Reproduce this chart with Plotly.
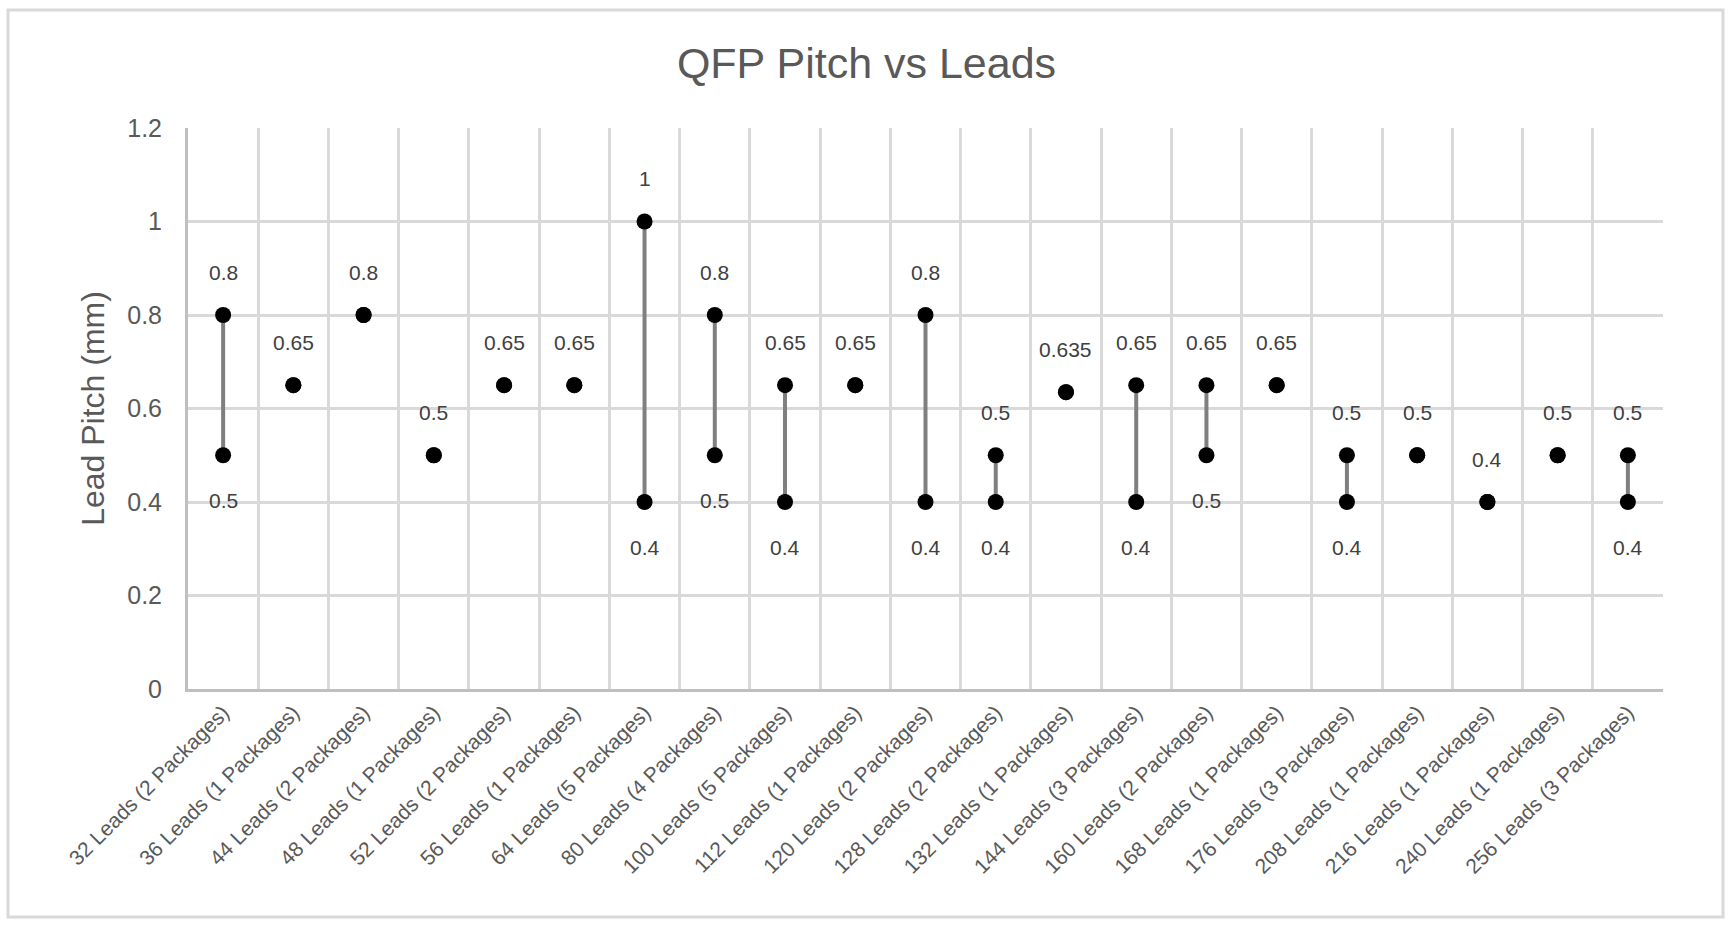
import plotly.graph_objects as go

categories = [
    "32 Leads (2 Packages)", "36 Leads (1 Packages)", "44 Leads (2 Packages)",
    "48 Leads (1 Packages)", "52 Leads (2 Packages)", "56 Leads (1 Packages)",
    "64 Leads (5 Packages)", "80 Leads (4 Packages)", "100 Leads (5 Packages)",
    "112 Leads (1 Packages)", "120 Leads (2 Packages)", "128 Leads (2 Packages)",
    "132 Leads (1 Packages)", "144 Leads (3 Packages)", "160 Leads (2 Packages)",
    "168 Leads (1 Packages)", "176 Leads (3 Packages)", "208 Leads (1 Packages)",
    "216 Leads (1 Packages)", "240 Leads (1 Packages)", "256 Leads (3 Packages)",
]
max_pitch = [0.8, 0.65, 0.8, 0.5, 0.65, 0.65, 1.0, 0.8, 0.65, 0.65, 0.8, 0.5,
             0.635, 0.65, 0.65, 0.65, 0.5, 0.5, 0.4, 0.5, 0.5]
min_pitch = [0.5, 0.65, 0.8, 0.5, 0.65, 0.65, 0.4, 0.5, 0.4, 0.65, 0.4, 0.4,
             0.635, 0.4, 0.5, 0.65, 0.4, 0.5, 0.4, 0.5, 0.4]

TEXT = "#595959"
LABEL = "#404040"
GRID = "#d9d9d9"
FONT = "Liberation Sans, Arial, sans-serif"

# range lines
lx, ly = [], []
for c, hi, lo in zip(categories, max_pitch, min_pitch):
    if hi != lo:
        lx += [c, c, None]
        ly += [lo, hi, None]

fig = go.Figure()
fig.add_trace(go.Scatter(x=lx, y=ly, mode="lines",
                         line=dict(color="#7f7f7f", width=4),
                         hoverinfo="skip", showlegend=False))
fig.add_trace(go.Scatter(x=categories, y=max_pitch, mode="markers",
                         marker=dict(color="black", size=16),
                         name="Max", showlegend=False))
fig.add_trace(go.Scatter(x=categories, y=min_pitch, mode="markers",
                         marker=dict(color="black", size=16),
                         name="Min", showlegend=False))

def fmt(v):
    return ("%g" % v)

annotations = []
for c, hi, lo in zip(categories, max_pitch, min_pitch):
    annotations.append(dict(x=c, y=hi, xref="x", yref="y", text=fmt(hi),
                            showarrow=False, yshift=43, yanchor="middle",
                            font=dict(size=21, color=LABEL, family=FONT)))
    if hi != lo:
        annotations.append(dict(x=c, y=lo, xref="x", yref="y", text=fmt(lo),
                                showarrow=False, yshift=-45, yanchor="middle",
                                font=dict(size=21, color=LABEL, family=FONT)))

L, R, T, B = 188, 1663, 128, 689
W, H = 1733, 930
pw, ph = R - L, B - T

def px(xp):
    return (xp - L) / pw

def py(yp):
    return (B - yp) / ph

fig.update_layout(
    width=W, height=H,
    margin=dict(l=L, r=W - R, t=T, b=H - B, pad=0),
    paper_bgcolor="white", plot_bgcolor="white",
    font=dict(family=FONT, color=TEXT),
    title=dict(text="QFP Pitch vs Leads", x=0.5, xanchor="center",
               y=1 - 63 / H, yanchor="middle",
               font=dict(size=43, color=TEXT, family=FONT)),
    annotations=annotations,
    shapes=[dict(type="rect", xref="paper", yref="paper",
                 x0=px(8), x1=px(1723), y0=py(917), y1=py(10),
                 line=dict(color=GRID, width=3), layer="below")],
    xaxis=dict(type="category", categoryorder="array", categoryarray=categories,
               tickson="boundaries", showgrid=True, gridcolor=GRID, gridwidth=3,
               showline=True, linecolor="#bfbfbf", linewidth=3,
               ticks="", tickangle=-45, range=[-0.5, 20.5],
               tickfont=dict(size=21, color=TEXT, family=FONT), zeroline=False),
    yaxis=dict(range=[0, 1.2], dtick=0.2, tick0=0, showgrid=True, gridcolor=GRID,
               gridwidth=3, showline=True, linecolor="#bfbfbf", linewidth=3,
               ticks="", ticklabelstandoff=18, zeroline=False,
               tickfont=dict(size=25, color=TEXT, family=FONT),
               title=dict(text="Lead Pitch (mm)", standoff=14,
                          font=dict(size=32, color=TEXT, family=FONT))),
)

fig.write_html("out.html", config={"displayModeBar": False},
               post_script="document.body.style.margin='0';document.body.style.overflow='hidden';")
